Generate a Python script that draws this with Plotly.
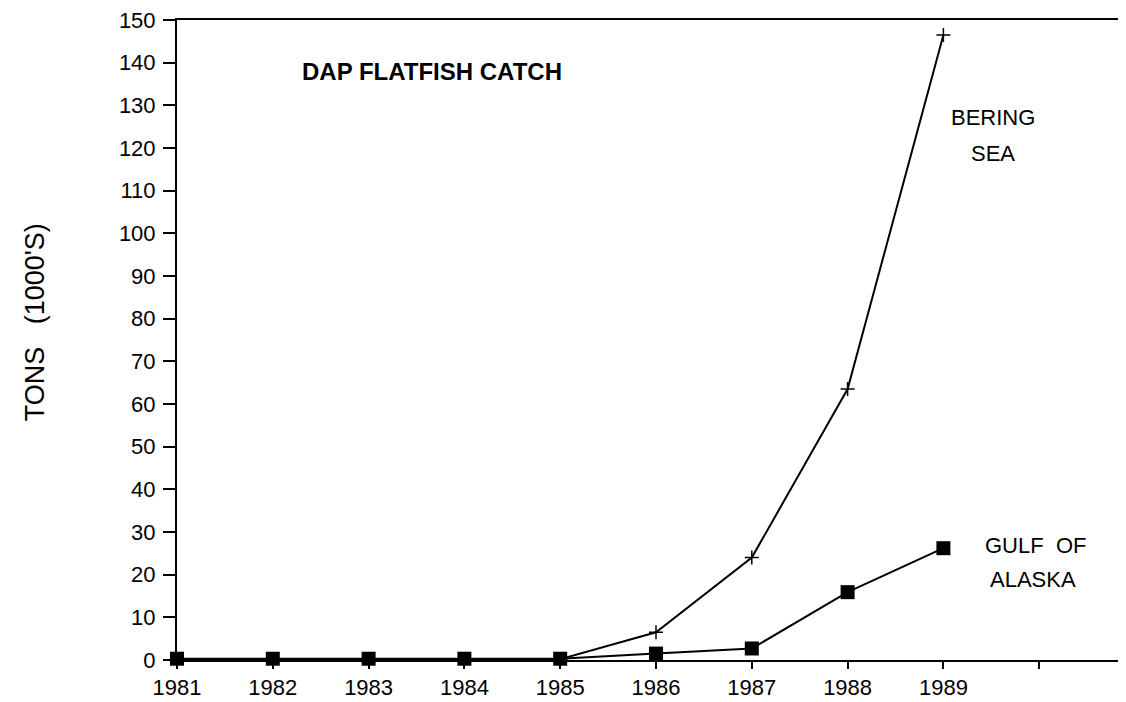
import plotly.graph_objects as go

years = [1981, 1982, 1983, 1984, 1985, 1986, 1987, 1988, 1989]
bering_sea = [0.2, 0.2, 0.2, 0.2, 0.2, 6.5, 24.0, 63.5, 146.5]
gulf_of_alaska = [0.3, 0.3, 0.3, 0.3, 0.3, 1.5, 2.7, 15.9, 26.2]

x_ticks = [1981, 1982, 1983, 1984, 1985, 1986, 1987, 1988, 1989, 1990]
x_labels = ["1981", "1982", "1983", "1984", "1985", "1986", "1987", "1988", "1989", ""]
y_ticks = list(range(0, 151, 10))

font = "Liberation Sans, Arial, sans-serif"
nb = "\u00a0"

fig = go.Figure()

fig.add_trace(
    go.Scatter(
        x=years,
        y=bering_sea,
        mode="lines+markers",
        name="Bering Sea",
        line=dict(color="black", width=2),
        marker=dict(symbol="cross-thin", size=10, line=dict(color="black", width=1.5)),
        cliponaxis=False,
        showlegend=False,
    )
)
fig.add_trace(
    go.Scatter(
        x=years,
        y=gulf_of_alaska,
        mode="lines+markers",
        name="Gulf of Alaska",
        line=dict(color="black", width=2),
        marker=dict(symbol="square", size=14, color="black"),
        cliponaxis=False,
        showlegend=False,
    )
)

# labels inside the plot
fig.add_annotation(x=1982.28, y=137.9, text="<b>DAP FLATFISH CATCH</b>",
                   xanchor="left", yanchor="middle", showarrow=False,
                   font=dict(family=font, size=24, color="black"))
fig.add_annotation(x=1989.52, y=127.1, text="BERING", xanchor="center", yanchor="middle",
                   showarrow=False, font=dict(family=font, size=22, color="black"))
fig.add_annotation(x=1989.52, y=118.7, text="SEA", xanchor="center", yanchor="middle",
                   showarrow=False, font=dict(family=font, size=22, color="black"))
fig.add_annotation(x=1989.41, y=26.9, text="GULF" + nb * 2 + "OF", xanchor="left",
                   yanchor="middle", showarrow=False,
                   font=dict(family=font, size=22, color="black"))
fig.add_annotation(x=1989.47, y=18.9, text="ALASKA", xanchor="left", yanchor="middle",
                   showarrow=False, font=dict(family=font, size=22, color="black"))

# y axis title
fig.add_annotation(x=-0.15, y=0.527, xref="paper", yref="paper",
                   text="TONS" + nb * 3 + "(1000'S)",
                   textangle=-90, showarrow=False, xanchor="center", yanchor="middle",
                   font=dict(family=font, size=27, color="black"))

# page body adds 8px, so the figure is 8px smaller than the window
fig.update_layout(
    width=1118,
    height=694,
    margin=dict(l=169, r=0, t=10, b=42),
    paper_bgcolor="white",
    plot_bgcolor="white",
    font=dict(family=font, color="black"),
)
fig.update_xaxes(
    range=[1981, 1990.906],
    tickvals=x_ticks,
    ticktext=x_labels,
    ticks="outside",
    ticklen=7,
    tickwidth=2,
    tickcolor="black",
    showline=True,
    linecolor="black",
    linewidth=2,
    mirror=True,
    showgrid=False,
    zeroline=False,
    ticklabeloverflow="allow",
    tickfont=dict(family=font, size=22, color="black"),
)
fig.update_yaxes(
    range=[0, 150],
    tickvals=y_ticks,
    ticks="outside",
    ticklen=12,
    tickwidth=2,
    tickcolor="black",
    showline=True,
    linecolor="black",
    linewidth=2,
    showgrid=False,
    zeroline=False,
    ticklabelstandoff=3,
    ticklabeloverflow="allow",
    tickfont=dict(family=font, size=22, color="black"),
)

fig.write_html("out.html")
